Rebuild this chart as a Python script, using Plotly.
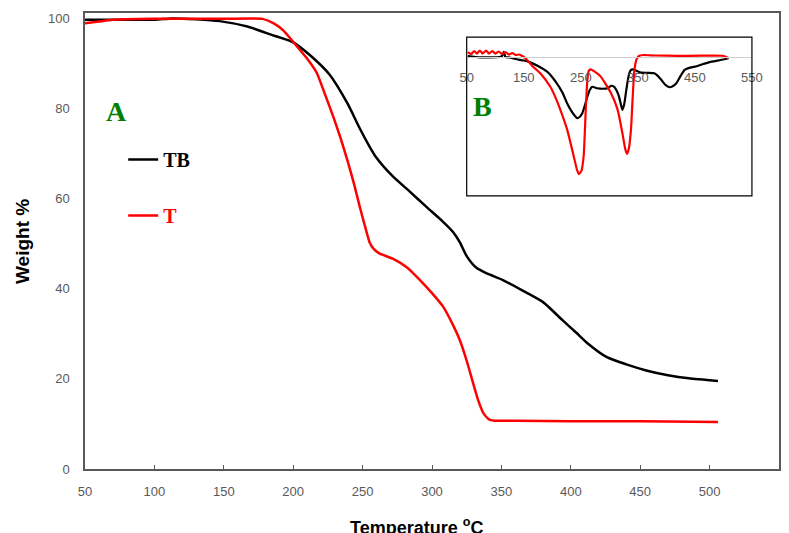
import plotly.graph_objects as go

# ---------------- main TGA data ----------------
tb_temp = [50, 70, 100, 113, 130, 147, 167, 185, 200, 213, 226, 239, 248, 255, 260, 272, 284, 296,
           308, 315, 320, 325, 332, 340, 351, 365, 380, 394, 404, 412, 426, 440, 455, 470, 485, 506]
tb_weight = [99.6, 99.6, 99.6, 99.9, 99.7, 99.3, 98.1, 96.2, 94.6, 91.5, 87.5, 81.1, 75.5, 71.5, 69.0,
             64.8, 61.5, 58.1, 54.8, 52.6, 50.3, 47.2, 44.6, 43.3, 41.9, 39.6, 37.0, 33.0, 30.2, 27.9,
             24.8, 23.2, 21.8, 20.8, 20.1, 19.5]

t_temp = [50, 60, 70, 100, 150, 178, 186, 193, 203, 210, 217, 223, 229, 234, 239, 244, 248, 252, 255,
          258, 262, 272, 282, 291, 300, 308, 315, 320, 325, 329, 333, 337, 341, 345, 360, 400, 450, 506]
t_weight = [98.8, 99.2, 99.6, 99.8, 99.8, 99.8, 98.8, 97.2, 93.6, 91.0, 87.8, 83.0, 78.0, 73.5, 68.5,
            63.0, 58.1, 53.5, 50.3, 48.8, 47.8, 46.6, 44.7, 42.0, 39.0, 36.0, 32.0, 28.6, 24.0, 19.7,
            15.5, 12.4, 11.0, 10.7, 10.7, 10.6, 10.6, 10.4]

# ---------------- inset DTG data ----------------
dtg_t_temp = [52, 58, 63, 68, 73, 78, 84, 89, 95, 100, 106, 112, 118, 124, 130, 136, 142, 150, 156, 165,
              179, 196.6, 205, 214, 226, 237.6, 243, 246.7, 251, 255, 258.5, 261.5, 264, 267, 275, 285,
              302.6, 314.5, 323, 328, 331, 334, 338, 341, 344, 348, 352, 360, 380, 420, 460, 497, 503, 509]
dtg_t = [0.05, 0.03, 0.06, 0.035, 0.065, 0.035, 0.065, 0.035, 0.06, 0.035, 0.055, 0.03, 0.05, 0.025,
         0.04, 0.02, 0.025, 0.0, -0.03, -0.09, -0.164, -0.30, -0.40, -0.53, -0.73, -1.0, -1.13, -1.18,
         -1.15, -1.0, -0.56, -0.23, -0.14, -0.124, -0.15, -0.198, -0.36, -0.53, -0.77, -0.93, -0.976,
         -0.93, -0.73, -0.40, -0.13, -0.02, 0.01, 0.02, 0.015, 0.012, 0.013, 0.013, 0.005, -0.013]

dtg_tb_temp = [52, 73, 108, 112, 115, 118, 125, 138, 150, 161, 175, 191, 208, 218, 226, 232, 237.8, 243.8,
               248, 252.6, 257, 261.5, 266, 270, 279, 288, 297, 303, 308.5, 313, 317, 320, 323, 326, 329,
               332, 335, 338, 341, 348, 355.6, 367, 379, 385, 391, 398, 405.7, 411, 417.5, 425, 432, 440,
               450, 465, 479, 495, 509]
dtg_tb = [0.01, -0.003, 0.0, 0.01, 0.053, 0.0, -0.005, -0.023, -0.035, -0.054, -0.09, -0.148, -0.265,
          -0.36, -0.466, -0.53, -0.58, -0.617, -0.605, -0.567, -0.49, -0.40, -0.33, -0.30, -0.315, -0.32,
          -0.315, -0.29, -0.30, -0.34, -0.40, -0.47, -0.533, -0.48, -0.365, -0.25, -0.164, -0.13, -0.124,
          -0.14, -0.158, -0.16, -0.164, -0.19, -0.23, -0.28, -0.305, -0.295, -0.265, -0.19, -0.13, -0.11,
          -0.097, -0.07, -0.047, -0.03, -0.013]

x_ticks = [50, 100, 150, 200, 250, 300, 350, 400, 450, 500, 550]
y_ticks = [0, 20, 40, 60, 80, 100]
inset_ticks = [50, 150, 250, 350, 450, 550]

GRAY = "#595959"
TICKFONT = dict(family="Liberation Sans", size=13, color=GRAY)

fig = go.Figure()

fig.add_trace(go.Scatter(x=tb_temp, y=tb_weight, mode="lines", name="<b>TB</b>",
                         line=dict(color="black", width=2.5, shape="spline", smoothing=0.6),
                         legendgroup="a"))
fig.add_trace(go.Scatter(x=t_temp, y=t_weight, mode="lines",
                         name="<b><span style='color:#ff0000'>T</span></b>",
                         line=dict(color="#ff0000", width=2.5, shape="spline", smoothing=0.5),
                         legendgroup="b"))

fig.add_trace(go.Scatter(x=dtg_tb_temp, y=dtg_tb, mode="lines", xaxis="x2", yaxis="y2", showlegend=False,
                         line=dict(color="black", width=2.2, shape="spline", smoothing=0.5)))
fig.add_trace(go.Scatter(x=dtg_t_temp, y=dtg_t, mode="lines", xaxis="x2", yaxis="y2", showlegend=False,
                         line=dict(color="#ff0000", width=2.2, shape="spline", smoothing=0.5)))

fig.update_layout(
    width=789, height=533,
    margin=dict(l=85, r=10, t=13, b=64, autoexpand=False),
    paper_bgcolor="white", plot_bgcolor="white",
    xaxis=dict(range=[50, 550], tickvals=x_ticks, ticks="inside", ticklen=4, tickcolor=GRAY,
               tickwidth=1.2, showgrid=False, zeroline=False, showline=True, mirror=True,
               linecolor=GRAY, linewidth=1.5, tickfont=TICKFONT, ticklabelstandoff=10),
    yaxis=dict(range=[0, 101.1], tickvals=y_ticks, ticks="", showgrid=False, zeroline=False,
               showline=True, mirror=True, linecolor=GRAY, linewidth=1.5, tickfont=TICKFONT,
               ticklabelstandoff=11),
    xaxis2=dict(domain=[0.550, 0.961], anchor="free", position=0.9035, range=[50, 550],
                tickvals=inset_ticks, ticks="", showgrid=False, zeroline=False, showline=True,
                linecolor="#d0d0d0", linewidth=1.2, tickfont=TICKFONT, ticklabelstandoff=8),
    yaxis2=dict(domain=[0.599, 0.947], anchor="x2", range=[-1.4, 0.2], visible=False),
    showlegend=True,
    legend=dict(x=0.055, y=0.7215, xanchor="left", yanchor="top", bgcolor="rgba(0,0,0,0)",
                font=dict(family="Liberation Serif", size=20, color="black"),
                tracegroupgap=27, itemclick=False),
    shapes=[dict(type="rect", xref="x2 domain", yref="y2 domain", x0=0, x1=1, y0=0, y1=1,
                 line=dict(color="black", width=1.2), layer="above")],
    annotations=[
        dict(text="<b>A</b>", xref="paper", yref="paper", x=0.046, y=0.783, showarrow=False,
             xanchor="center", yanchor="middle",
             font=dict(family="Liberation Serif", size=28, color="#008000")),
        dict(text="<b>B</b>", xref="paper", yref="paper", x=0.573, y=0.794, showarrow=False,
             xanchor="center", yanchor="middle",
             font=dict(family="Liberation Serif", size=28, color="#008000")),
        dict(text="<b>Weight %</b>", xref="paper", yref="paper", x=-0.0908, y=0.5, textangle=-90,
             xanchor="center", yanchor="middle",
             showarrow=False, font=dict(family="Liberation Sans", size=19, color="black")),
        dict(text="<b>Temperature <sup>o</sup>C</b>", xref="paper", yref="paper", x=0.477, y=-0.125,
             showarrow=False, xanchor="center", yanchor="middle",
             font=dict(family="Liberation Sans", size=18, color="black")),
    ],
)

fig.write_html("out.html", config={"displayModeBar": False},
               post_script="document.body.style.margin='0';")
